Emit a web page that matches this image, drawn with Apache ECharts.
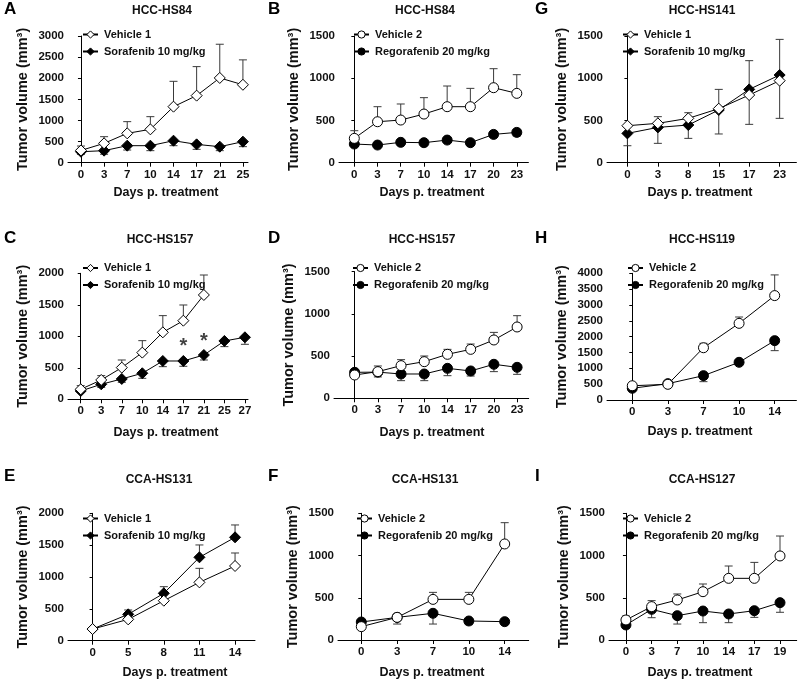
<!DOCTYPE html>
<html><head><meta charset="utf-8">
<script src="https://cdn.jsdelivr.net/npm/echarts@6/dist/echarts.min.js"></script>
<style>html,body{margin:0;padding:0;background:#fff}#c{width:800px;height:681px}</style>
</head><body><div id="c"></div>
<script>
// ---------- DATA (mean tumor volume, signed error bar: + up, - down) ----------
const aDays = ['0','3','7','10','14','17','21','25'];
const aVeh = [290,458,695,790,1327,1588,2007,1845];
const aVehErr = [105,158,277,300,600,687,798,590];
const aSor = [260,285,403,403,521,434,379,498];
const aSorErr = [-60,-85,-103,-118,-118,-118,-94,-118];

const bDays = ['0','3','7','10','14','17','20','23'];
const bVeh = [288,485,505,576,663,663,888,821];
const bVehErr = [91,178,190,194,245,217,225,221];
const bReg = [221,209,241,237,268,237,335,359];
const bRegErr = [-20,-15,-20,-25,-20,-20,-30,-43];

const gDays = ['0','3','8','15','17','23'];
const gVeh = [438,466,525,640,801,971];
const gVehErr = [0,79,67,228,-347,-446];
const gSor = [347,418,446,624,868,1038];
const gSorErr = [-146,-189,-158,-284,340,422];

const cDays = ['0','3','7','10','14','17','21','25','27'];
const cVeh = [159,307,503,741,1063,1248,1656];
const cVehErr = [58,69,121,190,265,249,317];
const cSor = [132,238,323,413,608,608,703,926,984];
const cSorErr = [-20,-48,-53,-80,-90,-84,-79,-90,-111];
const cStars = [null,null,null,null,null,905,985,null,null];

const dDays = ['0','3','7','10','14','17','20','23'];
const dVeh = [276,316,387,434,521,580,691,845];
const dVehErr = [0,67,71,67,59,63,90,134];
const dReg = [308,310,288,288,355,324,403,367];
const dRegErr = [0,-57,-79,-79,-87,-60,-87,-83];

const hDays = ['0','3','7','10','14'];
const hVeh = [450,495,1650,2420,3296];
const hVehErr = [0,40,140,200,653];
const hReg = [370,516,769,1190,1874];
const hRegErr = [0,0,-190,0,-316];

const eDays = ['0','5','8','11','14'];
const eVeh = [183,335,628,916,1173];
const eVehErr = [0,0,0,220,204];
const eSor = [183,414,744,1309,1623];
const eSorErr = [0,68,104,194,194];

const fDays = ['0','3','7','10','14'];
const fVeh = [158,268,481,481,1137];
const fVehErr = [0,40,83,83,252];
const fReg = [213,268,316,225,217];
const fRegErr = [0,-79,-127,-43,0];

const iDays = ['0','3','7','10','14','17','19'];
const iVeh = [237,395,474,572,730,730,995];
const iVehErr = [47,71,71,91,146,189,236];
const iReg = [178,363,288,343,308,347,442];
const iRegErr = [-40,-99,-99,-138,-103,-79,-114];

const yTitle = 'Tumor volume (mm³)';
const xTitle = 'Days p. treatment';

// ---------- LAYOUT ----------
const FONT = '"Liberation Sans", Arial, Helvetica, sans-serif';
const V1 = {name:'Vehicle 1', symbol:'diamond', size:11, filled:false};
const SO = {name:'Sorafenib 10 mg/kg', symbol:'diamond', size:11, filled:true};
const V2 = {name:'Vehicle 2', symbol:'circle', size:10, filled:false};
const RE = {name:'Regorafenib 20 mg/kg', symbol:'circle', size:10, filled:true};

const panels = [
 {L:'A', T:'HCC-HS84', days:aDays, a:[V1,aVeh,aVehErr], b:[SO,aSor,aSorErr], yMax:3000,
  g:[68,36,180,126.7], xr:[-0.56,7.22], lg:[82,28], lt:[4,9], tt:[162,11], xn:[166,193]},
 {L:'B', T:'HCC-HS84', days:bDays, a:[V2,bVeh,bVehErr], b:[RE,bReg,bRegErr], yMax:1500,
  g:[339,36,189.4,126.7], xr:[-0.66,7.5], lg:[353,28], lt:[268,9], tt:[425,11], xn:[432,193]},
 {L:'G', T:'HCC-HS141', days:gDays, a:[V1,gVeh,gVehErr], b:[SO,gSor,gSorErr], yMax:1500,
  g:[607,36,189.4,126.7], xr:[-0.67,5.55], lg:[622,28], lt:[535,9], tt:[702,11], xn:[700,193]},
 {L:'C', T:'HCC-HS157', days:cDays, a:[V1,cVeh,cVehErr], b:[SO,cSor,cSorErr], yMax:2000,
  g:[68,273.3,180,126], xr:[-0.62,8.15], lg:[82,261.5], lt:[4,238], tt:[160,240], xn:[166,433], stars:cStars},
 {L:'D', T:'HCC-HS157', days:dDays, a:[V2,dVeh,dVehErr], b:[RE,dReg,dRegErr], yMax:1500,
  g:[334,271.7,194.7,126.6], xr:[-0.89,7.5], lg:[352,261.5], lt:[268,238], tt:[422,240], xn:[432,433]},
 {L:'H', T:'HCC-HS119', days:hDays, a:[V2,hVeh,hVehErr], b:[RE,hReg,hRegErr], yMax:4000,
  g:[607,273.3,189.4,126.7], xr:[-0.71,4.61], lg:[627,261.5], lt:[535,238], tt:[702,240], xn:[700,432]},
 {L:'E', T:'CCA-HS131', days:eDays, a:[V1,eVeh,eVehErr], b:[SO,eSor,eSorErr], yMax:2000,
  g:[68,513.3,187,127.4], xr:[-0.69,4.56], lg:[82,512], lt:[4,476], tt:[159,480], xn:[175,673]},
 {L:'F', T:'CCA-HS131', days:fDays, a:[V2,fVeh,fVehErr], b:[RE,fReg,fRegErr], yMax:1500,
  g:[338,513.3,190.7,126.7], xr:[-0.65,4.67], lg:[356,512], lt:[268,476], tt:[425,480], xn:[432,673]},
 {L:'I', T:'CCA-HS127', days:iDays, a:[V2,iVeh,iVehErr], b:[RE,iReg,iRegErr], yMax:1500,
  g:[609,513.3,187.7,126.7], xr:[-0.66,6.65], lg:[622,512], lt:[535,476], tt:[702,480], xn:[700,673]}
];

function errRender(params, api){
  const x = api.value(0), m = api.value(1), e = api.value(2);
  if (!e) return null;
  const p0 = api.coord([x, m]);
  const p1 = api.coord([x, m + e]);
  const w = 4;
  const st = {stroke:'#3a3a3a', lineWidth:1};
  return {type:'group', children:[
    {type:'line', shape:{x1:p0[0], y1:p0[1], x2:p1[0], y2:p1[1]}, style:st},
    {type:'line', shape:{x1:p1[0]-w, y1:p1[1], x2:p1[0]+w, y2:p1[1]}, style:st}
  ]};
}

const grid = [], xAxis = [], yAxis = [], series = [], legend = [], graphic = [];
panels.forEach((p, k) => {
  grid.push({left:p.g[0], top:p.g[1], width:p.g[2], height:p.g[3]});
  const idx = p.days.map((d, i) => i);
  xAxis.push({type:'value', gridIndex:k, min:p.xr[0], max:p.xr[1],
    axisLine:{show:true, onZero:false, lineStyle:{color:'#000', width:1}},
    axisTick:{show:true, customValues:idx, length:4, lineStyle:{color:'#000', width:1}},
    axisLabel:{customValues:idx, formatter:v => p.days[Math.round(v)], margin:6,
      fontFamily:FONT, fontWeight:'bold', fontSize:11.5, color:'#111'},
    splitLine:{show:false}});
  yAxis.push({type:'value', gridIndex:k, min:0, max:p.yMax, interval:500,
    axisLine:{show:true, lineStyle:{color:'#000', width:1}},
    axisTick:{show:true, length:3, lineStyle:{color:'#000', width:1}},
    axisLabel:{margin:4, formatter:v => String(v), fontFamily:FONT, fontWeight:'bold', fontSize:11.5, color:'#111'},
    splitLine:{show:false},
    name:yTitle, nameLocation:'middle', nameRotate:90, nameGap:38,
    nameTextStyle:{fontFamily:FONT, fontWeight:'bold', fontSize:14.5, color:'#111'}});
  // lower series first, vehicle on top
  [p.b, p.a].forEach(([s, vals, errs], j) => {
    series.push({type:'custom', name:'err', xAxisIndex:k, yAxisIndex:k, renderItem:errRender,
      clip:false, z:1, silent:true,
      encode:{x:0, y:1},
      data: vals.map((v, i) => [i, v, errs[i]])});
    series.push({type:'line', name:s.name, xAxisIndex:k, yAxisIndex:k,
      symbol:s.symbol, symbolSize:s.size, showSymbol:true, showAllSymbol:true,
      itemStyle:{color:s.filled ? '#000' : '#fff', borderColor:'#000', borderWidth:1},
      lineStyle:{color:'#000', width:1}, z:j === 1 ? 4 : 3, silent:true,
      emphasis:{disabled:true},
      data: vals.map((v, i) => [i, v])});
  });
  if (p.stars) {
    series.push({type:'scatter', name:'sig', xAxisIndex:k, yAxisIndex:k, symbolSize:0, silent:true,
      data: p.stars.map((v, i) => v == null ? null : [i, v]).filter(d => d),
      label:{show:true, formatter:'*', position:'inside', fontFamily:FONT, fontWeight:'bold', fontSize:20, color:'#111', offset:[0,4]}});
  }
  legend.push({orient:'vertical', left:p.lg[0], top:p.lg[1], padding:0, itemWidth:15, itemHeight:9, itemGap:4,
    selectedMode:false, data:[p.a[0].name, p.b[0].name],
    itemStyle:{borderWidth:1},
    textStyle:{fontFamily:FONT, fontWeight:'bold', fontSize:11, color:'#111', lineHeight:13, padding:[0,0,0,1]}});
  graphic.push({type:'text', left:p.lt[0], top:p.lt[1] - 8,
    style:{text:p.L, font:'bold 17px ' + FONT, fill:'#000'}});
  graphic.push({type:'text', x:p.tt[0], y:p.tt[1],
    style:{text:p.T, font:'bold 12px ' + FONT, fill:'#111', textAlign:'center', textVerticalAlign:'middle'}});
  graphic.push({type:'text', x:p.xn[0], y:p.xn[1],
    style:{text:xTitle, font:'bold 12.5px ' + FONT, fill:'#111', textAlign:'center', textVerticalAlign:'middle'}});
});

const chart = echarts.init(document.getElementById('c'), null, {renderer:'canvas'});
chart.setOption({animation:false, backgroundColor:'#fff', grid, xAxis, yAxis, series, legend, graphic});
</script></body></html>
